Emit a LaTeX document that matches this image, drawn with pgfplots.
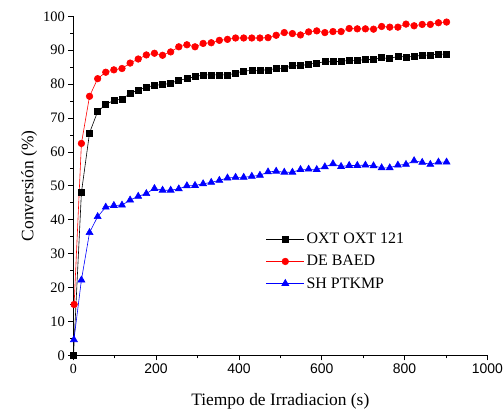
\documentclass[border=0pt]{standalone}
\usepackage{fontspec}
\setmainfont{Liberation Serif}
\newfontfamily\arialfont{Liberation Sans}
\usepackage{pgfplots}
\pgfplotsset{compat=1.18}

\begin{document}
\begin{tikzpicture}
\useasboundingbox (-73.3bp,-55bp) rectangle (430.7bp,355.3bp);
\begin{axis}[
    scale only axis,
    width=414bp, height=339bp,
    xmin=0, xmax=1000, ymin=0, ymax=100,
    axis lines=left,
    axis line style={-, line width=0.9pt},
    tick align=outside,
    major tick length=5bp,
    minor tick length=3bp,
    tick style={black, line width=0.8pt},
    xtick={0,200,...,1000},
    xticklabels={{\rmfamily 0},200,400,600,800,1000},
    minor x tick num=1,
    ytick={0,10,...,100},
    minor y tick num=1,
    /pgf/number format/assume math mode=true,
    xticklabel style={font=\arialfont\fontsize{14}{14}\selectfont},
    yticklabel style={font=\fontsize{14.5}{14.5}\selectfont},
    every axis x label/.style={at={(axis description cs:0.5,-0.149)}, anchor=base},
    every axis y label/.style={at={(axis description cs:-0.0965,0.5)}, rotate=90, anchor=base},
    label style={font=\fontsize{17.5}{17.5}\selectfont},
    xlabel={Tiempo de Irradiacion (s)},
    ylabel={Conversión (\%)},
    legend style={at={(rel axis cs:0.465,0.366)}, anchor=north west, draw=none, fill=none,
        font=\fontsize{16}{16}\selectfont, row sep=6bp, inner sep=0pt},
    legend cell align=left,
    legend image code/.code={\draw[mark repeat=2,mark phase=2] plot coordinates {(0bp,0bp) (19bp,0bp) (38bp,0bp)};},
]
\addplot[black, line width=0.6pt, mark=square*, mark size=3bp] coordinates {
(0.5,0) (19.6,48) (39.2,65.6) (58.8,71.9) (78.4,74.0) (98,75.2) (117.6,75.6) (137.2,77.2)
(156.8,78.3) (176.4,79.0) (196,79.7) (215.6,79.8) (235.2,80.3) (254.8,81.1) (274.4,81.6)
(294,82.2) (313.6,82.7) (333.2,82.7) (352.8,82.7) (372.4,82.7) (392,83.2) (411.6,83.9)
(431.2,84.0) (450.8,84.1) (470.4,84.2) (490,84.6) (509.6,84.7) (529.2,85.4) (548.8,85.4)
(568.4,85.9) (588,86.2) (607.6,86.6) (627.2,86.6) (646.8,86.7) (666.4,87.0) (686,87.0)
(705.6,87.25) (725.2,87.25) (744.8,87.8) (764.4,87.5) (784,88.2) (803.6,88.0) (823.2,88.2)
(842.8,88.5) (862.4,88.6) (882,88.9) (901.6,88.8)
};
\addlegendentry{OXT OXT 121}
\addplot[red, line width=0.6pt, mark=*, mark size=3.3bp] coordinates {
(2,15) (19.6,62.5) (39.2,76.4) (58.8,81.6) (78.4,83.5) (98,84.2) (117.6,84.6) (137.2,86.2)
(156.8,87.4) (176.4,88.6) (196,89.1) (215.6,88.5) (235.2,89.5) (254.8,91.0) (274.4,91.6)
(294,91.0) (313.6,92.0) (333.2,92.2) (352.8,92.9) (372.4,93.2) (392,93.6) (411.6,93.6)
(431.2,93.6) (450.8,93.6) (470.4,93.7) (490,94.4) (509.6,95.2) (529.2,94.9) (548.8,94.5)
(568.4,95.4) (588,95.7) (607.6,95.2) (627.2,95.5) (646.8,95.5) (666.4,96.4) (686,96.3)
(705.6,96.3) (725.2,96.2) (744.8,97.0) (764.4,96.8) (784,96.8) (803.6,97.7) (823.2,97.2)
(842.8,97.6) (862.4,97.6) (882,98.1) (901.6,98.3)
};
\addlegendentry{DE BAED}
\addplot[blue, line width=0.6pt, mark=triangle*, mark size=4bp] coordinates {
(1.5,4.6) (19.6,22.2) (39.2,36.2) (58.8,40.9) (78.4,43.7) (98,44.2) (117.6,44.3) (137.2,45.8)
(156.8,46.9) (176.4,47.7) (196,49.2) (215.6,48.7) (235.2,48.7) (254.8,49.1) (274.4,50.0)
(294,50.1) (313.6,50.6) (333.2,51.0) (352.8,51.6) (372.4,52.3) (392,52.5) (411.6,52.5)
(431.2,52.8) (450.8,53.1) (470.4,54.1) (490,54.3) (509.6,54.0) (529.2,54.0) (548.8,54.8)
(568.4,54.9) (588,54.8) (607.6,55.6) (627.2,56.5) (646.8,55.7) (666.4,56.0) (686,56.0)
(705.6,56.1) (725.2,55.9) (744.8,55.3) (764.4,55.3) (784,56.1) (803.6,56.3) (823.2,57.4)
(842.8,56.9) (862.4,56.3) (882,57.0) (901.6,57.0)
};
\addlegendentry{SH PTKMP}
\end{axis}
\end{tikzpicture}
\end{document}
